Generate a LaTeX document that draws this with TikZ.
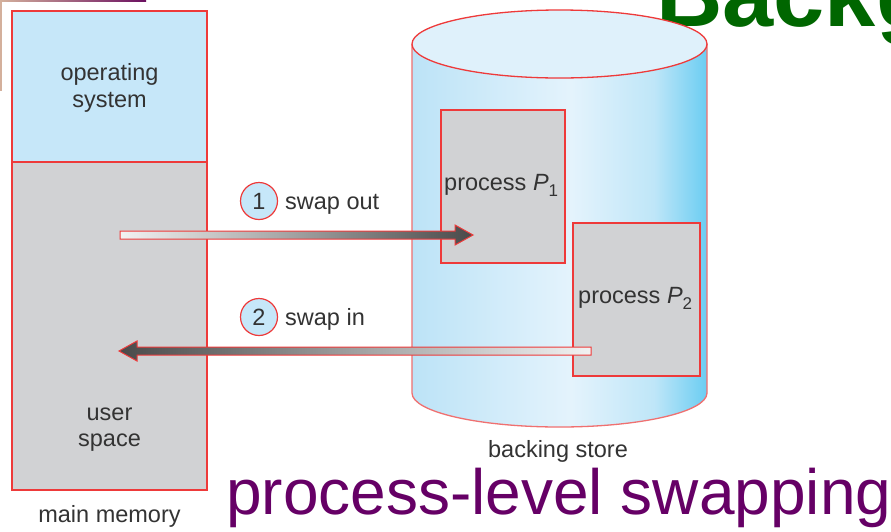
\documentclass[tikz,border=0pt]{standalone}
\usepackage{fontspec}
\setmainfont{Liberation Sans}
\definecolor{redline}{HTML}{EE3A3A}
\definecolor{cylline}{HTML}{F07070}
\definecolor{osblue}{HTML}{C6E7F9}
\definecolor{usergray}{HTML}{D1D2D4}
\definecolor{txt}{HTML}{333333}
\definecolor{purp}{HTML}{660066}
\definecolor{dgreen}{HTML}{006600}
\definecolor{cylA}{HTML}{BCE3F7}
\definecolor{cylB}{HTML}{E4F3FC}
\definecolor{cylC}{HTML}{BFE6F8}
\definecolor{cylD}{HTML}{6BCDF2}
\definecolor{cyltop}{HTML}{DFF1FB}
\definecolor{arlight}{HTML}{F2F2F2}
\definecolor{armid}{HTML}{A0A0A0}
\definecolor{ardark}{HTML}{4A4A4A}
\definecolor{tanc}{HTML}{D4B09C}
\definecolor{purpc}{HTML}{6B1060}
\pgfdeclarehorizontalshading{cylshade}{100bp}{color(0bp)=(cylA); color(25bp)=(cylA); color(52bp)=(cylB); color(66bp)=(cylC); color(75bp)=(cylD); color(100bp)=(cylD)}
\pgfdeclarehorizontalshading{outshade}{100bp}{color(0bp)=(arlight); color(25bp)=(arlight); color(50bp)=(armid); color(75bp)=(ardark); color(100bp)=(ardark)}
\pgfdeclarehorizontalshading{inshade}{100bp}{color(0bp)=(ardark); color(25bp)=(ardark); color(50bp)=(armid); color(75bp)=(arlight); color(100bp)=(arlight)}
\newcommand\figfont{\fontsize{23.5}{27}\selectfont}
\tikzset{
  memorybox/.style={draw=redline, line width=1.3pt, minimum width=195, minimum height=#1, inner sep=0},
  procbox/.style={draw=redline, line width=1.3pt, fill=usergray, inner sep=0},
  figtext/.style={text=txt, font=\figfont, inner sep=0},
  numcircle/.style={circle, draw=redline, line width=1.2pt, fill=osblue, minimum size=37, inner sep=0, text=txt, font=\figfont},
  arrowbody/.style={draw=redline, line width=1pt}
}
\begin{document}
\begin{tikzpicture}[x=1pt,y=-1pt]
\clip (0,0) rectangle (891,531);
\fill[white] (0,0) rectangle (891,531);
% artifact at top-left
\fill[tanc] (0,0) rectangle (1.5,91);
\shade[left color=tanc, right color=purpc] (0,0) rectangle (146,1.6);
% title fragment
\node[anchor=base west, inner sep=0, text=dgreen, font=\fontsize{92}{100}\selectfont\bfseries] (title) at (656,26) {Background};
% main memory
\node[memorybox=151, fill=osblue] (os) at (109.5,86.5) {};
\node[memorybox=328, fill=usergray] (user) at (109.5,326) {};
\node[figtext, anchor=base] (ost1) at (109.5,80) {operating};
\node[figtext, anchor=base] (ost2) at (109.5,107) {system};
\node[figtext, anchor=base] (ust1) at (109.5,420) {user};
\node[figtext, anchor=base] (ust2) at (109.5,446) {space};
\node[figtext, anchor=base] (mm) at (109.5,522) {main memory};
% backing store cylinder
\shade[shading=cylshade] (412,44) -- (412,393) arc[start angle=180, end angle=0, x radius=147.5, y radius=34] -- (707,44) -- cycle;
\draw[cylline, line width=1.3pt] (412,44) -- (412,393) arc[start angle=180, end angle=0, x radius=147.5, y radius=34] -- (707,44);
\filldraw[fill=cyltop, draw=redline, line width=1.3pt] (559.5,44) ellipse [x radius=147.5, y radius=34];
\node[figtext, anchor=base] (bs) at (558,457) {backing store};
% processes
\node[procbox, minimum width=124, minimum height=153] (p1) at (503,186.5) {};
\node[procbox, minimum width=127, minimum height=153] (p2) at (636.5,299.5) {};
\node[figtext, anchor=base west] (p1t) at (444,190) {process \textit{P}\raisebox{-0.28em}{\fontsize{17}{17}\selectfont 1}};
\node[figtext, anchor=base west] (p2t) at (578,303) {process \textit{P}\raisebox{-0.28em}{\fontsize{17}{17}\selectfont 2}};
% arrows
\shadedraw[shading=outshade, arrowbody] (120,231) -- (455,231) -- (455,225) -- (473,235) -- (455,245) -- (455,239) -- (120,239) -- cycle;
\shadedraw[shading=inshade, arrowbody] (591,347) -- (137,347) -- (137,341) -- (119,351) -- (137,361) -- (137,355) -- (591,355) -- cycle;
% labels
\node[numcircle] (c1) at (259,201) {1};
\node[numcircle] (c2) at (259,317) {2};
\node[figtext, anchor=base west] (so) at (285,209) {swap out};
\node[figtext, anchor=base west] (si) at (285,325) {swap in};
% caption
\node[anchor=base west, inner sep=0, text=purp, font=\fontsize{64}{70}\selectfont] (cap) at (226,514) {process-level swapping};
\end{tikzpicture}
\end{document}
